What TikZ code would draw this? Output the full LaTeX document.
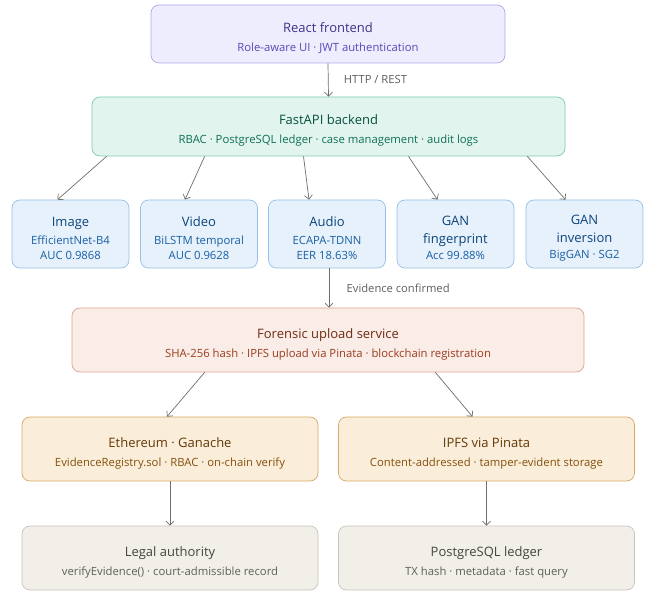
\documentclass[tikz,border=0pt]{standalone}
\usepackage{fontspec}
\setmainfont{Open Sans}
\usepackage{tikz}
\usetikzlibrary{arrows.meta, positioning}

\definecolor{purfill}{HTML}{EEEDFE}
\definecolor{purline}{HTML}{AFA9EC}
\definecolor{purhead}{HTML}{3C3489}
\definecolor{pursub}{HTML}{534AB7}
\definecolor{grnfill}{HTML}{E1F5EE}
\definecolor{grnline}{HTML}{7FC9AC}
\definecolor{grnhead}{HTML}{085041}
\definecolor{grnsub}{HTML}{0F6E56}
\definecolor{blufill}{HTML}{E6F1FB}
\definecolor{bluline}{HTML}{95BFE6}
\definecolor{bluhead}{HTML}{0C447C}
\definecolor{blusub}{HTML}{185FA5}
\definecolor{corfill}{HTML}{FAECE7}
\definecolor{corline}{HTML}{E4A08A}
\definecolor{corhead}{HTML}{712B13}
\definecolor{corsub}{HTML}{993C1D}
\definecolor{ambfill}{HTML}{FAEEDA}
\definecolor{ambline}{HTML}{D8A868}
\definecolor{ambhead}{HTML}{633806}
\definecolor{ambsub}{HTML}{854F0B}
\definecolor{gryfill}{HTML}{F1EFE8}
\definecolor{gryline}{HTML}{C6C4BC}
\definecolor{gryhead}{HTML}{444441}
\definecolor{grysub}{HTML}{5F5E5A}
\definecolor{flowcol}{HTML}{6E6D68}

% title line, with a strut that pushes the text block down a little
\newcommand{\hd}[2]{{\color{#1}\fontsize{13}{15}\selectfont #2}}
\newcommand{\pad}{\rule{0pt}{18pt}}

\tikzset{
  box/.style={rectangle, rounded corners=8pt, line width=0.7pt, align=center,
    inner sep=0pt, font=\fontsize{11.3}{15}\selectfont},
  purbox/.style={box, fill=purfill, draw=purline, text=pursub},
  grnbox/.style={box, fill=grnfill, draw=grnline, text=grnsub},
  blubox/.style={box, fill=blufill, draw=bluline, text=blusub,
    minimum width=117pt, minimum height=68pt},
  corbox/.style={box, fill=corfill, draw=corline, text=corsub},
  ambbox/.style={box, fill=ambfill, draw=ambline, text=ambsub,
    minimum width=296pt, minimum height=64pt},
  grybox/.style={box, fill=gryfill, draw=gryline, text=grysub,
    minimum width=296pt, minimum height=64pt},
  flow/.style={->, >={Straight Barb[length=4pt, width=8pt]}, draw=flowcol, line width=0.7pt},
  flowlabel/.style={font=\fontsize{11.2}{13}\selectfont, text=grysub}
}

\begin{document}
\begin{tikzpicture}[x=1pt, y=-1pt]
\useasboundingbox (0,0) rectangle (651,593);

% Client and API
\node[purbox, minimum width=354pt, minimum height=58pt] (fe) at (328,34)
  {\pad\hd{purhead}{React frontend}\\[4pt]Role-aware UI · JWT authentication};
\node[grnbox, minimum width=473pt, minimum height=59pt] (api) at (328.5,126.5)
  {\pad\hd{grnhead}{FastAPI backend}\\[4pt]RBAC · PostgreSQL ledger · case management · audit logs};

% Detectors
\node[blubox] (img) at (70.5,234)
  {\pad\hd{bluhead}{Image}\\[3pt]EfficientNet-B4\\AUC 0.9868};
\node[blubox] (vid) at (199,234)
  {\pad\hd{bluhead}{Video}\\[3pt]BiLSTM temporal\\AUC 0.9628};
\node[blubox] (aud) at (327,234)
  {\pad\hd{bluhead}{Audio}\\[3pt]ECAPA-TDNN\\EER 18.63\%};
\node[blubox] (ganfp) at (455.5,234)
  {\pad\hd{bluhead}{GAN}\\[3pt]\hd{bluhead}{fingerprint}\\[1pt]Acc 99.88\%};
\node[blubox] (ganinv) at (584.5,234)
  {\pad\hd{bluhead}{GAN}\\[3pt]\hd{bluhead}{inversion}\\[1pt]BigGAN · SG2};

% Upload and storage
\node[corbox, minimum width=512pt, minimum height=64pt] (upload) at (328,340)
  {\pad\hd{corhead}{Forensic upload service}\\[4pt]SHA-256 hash · IPFS upload via Pinata · blockchain registration};
\node[ambbox] (eth) at (170,449)
  {\pad\hd{ambhead}{Ethereum · Ganache}\\[4pt]EvidenceRegistry.sol · RBAC · on-chain verify};
\node[ambbox] (ipfs) at (486.5,449)
  {\pad\hd{ambhead}{IPFS via Pinata}\\[4pt]Content-addressed · tamper-evident storage};
\node[grybox] (legal) at (170,558)
  {\pad\hd{gryhead}{Legal authority}\\[4pt]verifyEvidence() · court-admissible record};
\node[grybox] (ledger) at (486.5,558)
  {\pad\hd{gryhead}{PostgreSQL ledger}\\[4pt]TX hash · metadata · fast query};

% Connectors
\draw[flow] (fe.south) -- node[flowlabel, right=12pt] {HTTP / REST} (api.north);
\draw[flow] ([xshift=15pt]api.south west) -- ([xshift=-13pt]img.north);
\draw[flow] ([xshift=113pt]api.south west) -- ([xshift=-14pt]vid.north);
\draw[flow] ([xshift=-25pt]api.south) -- ([xshift=-18pt]aud.north);
\draw[flow] ([xshift=80pt]api.south) -- ([xshift=-18pt]ganfp.north);
\draw[flow] ([xshift=-38pt]api.south east) -- ([xshift=-19pt]ganinv.north);
\draw[flow] ([xshift=2pt]aud.south) -- node[flowlabel, right=14pt] {Evidence confirmed} ([xshift=1pt]upload.north);
\draw[flow] ([xshift=133pt]upload.south west) -- ([xshift=-3pt]eth.north);
\draw[flow] ([xshift=-149pt]upload.south east) -- ([xshift=-14pt]ipfs.north);
\draw[flow] (eth.south) -- (legal.north);
\draw[flow] (ipfs.south) -- (ledger.north);
\end{tikzpicture}
\end{document}
